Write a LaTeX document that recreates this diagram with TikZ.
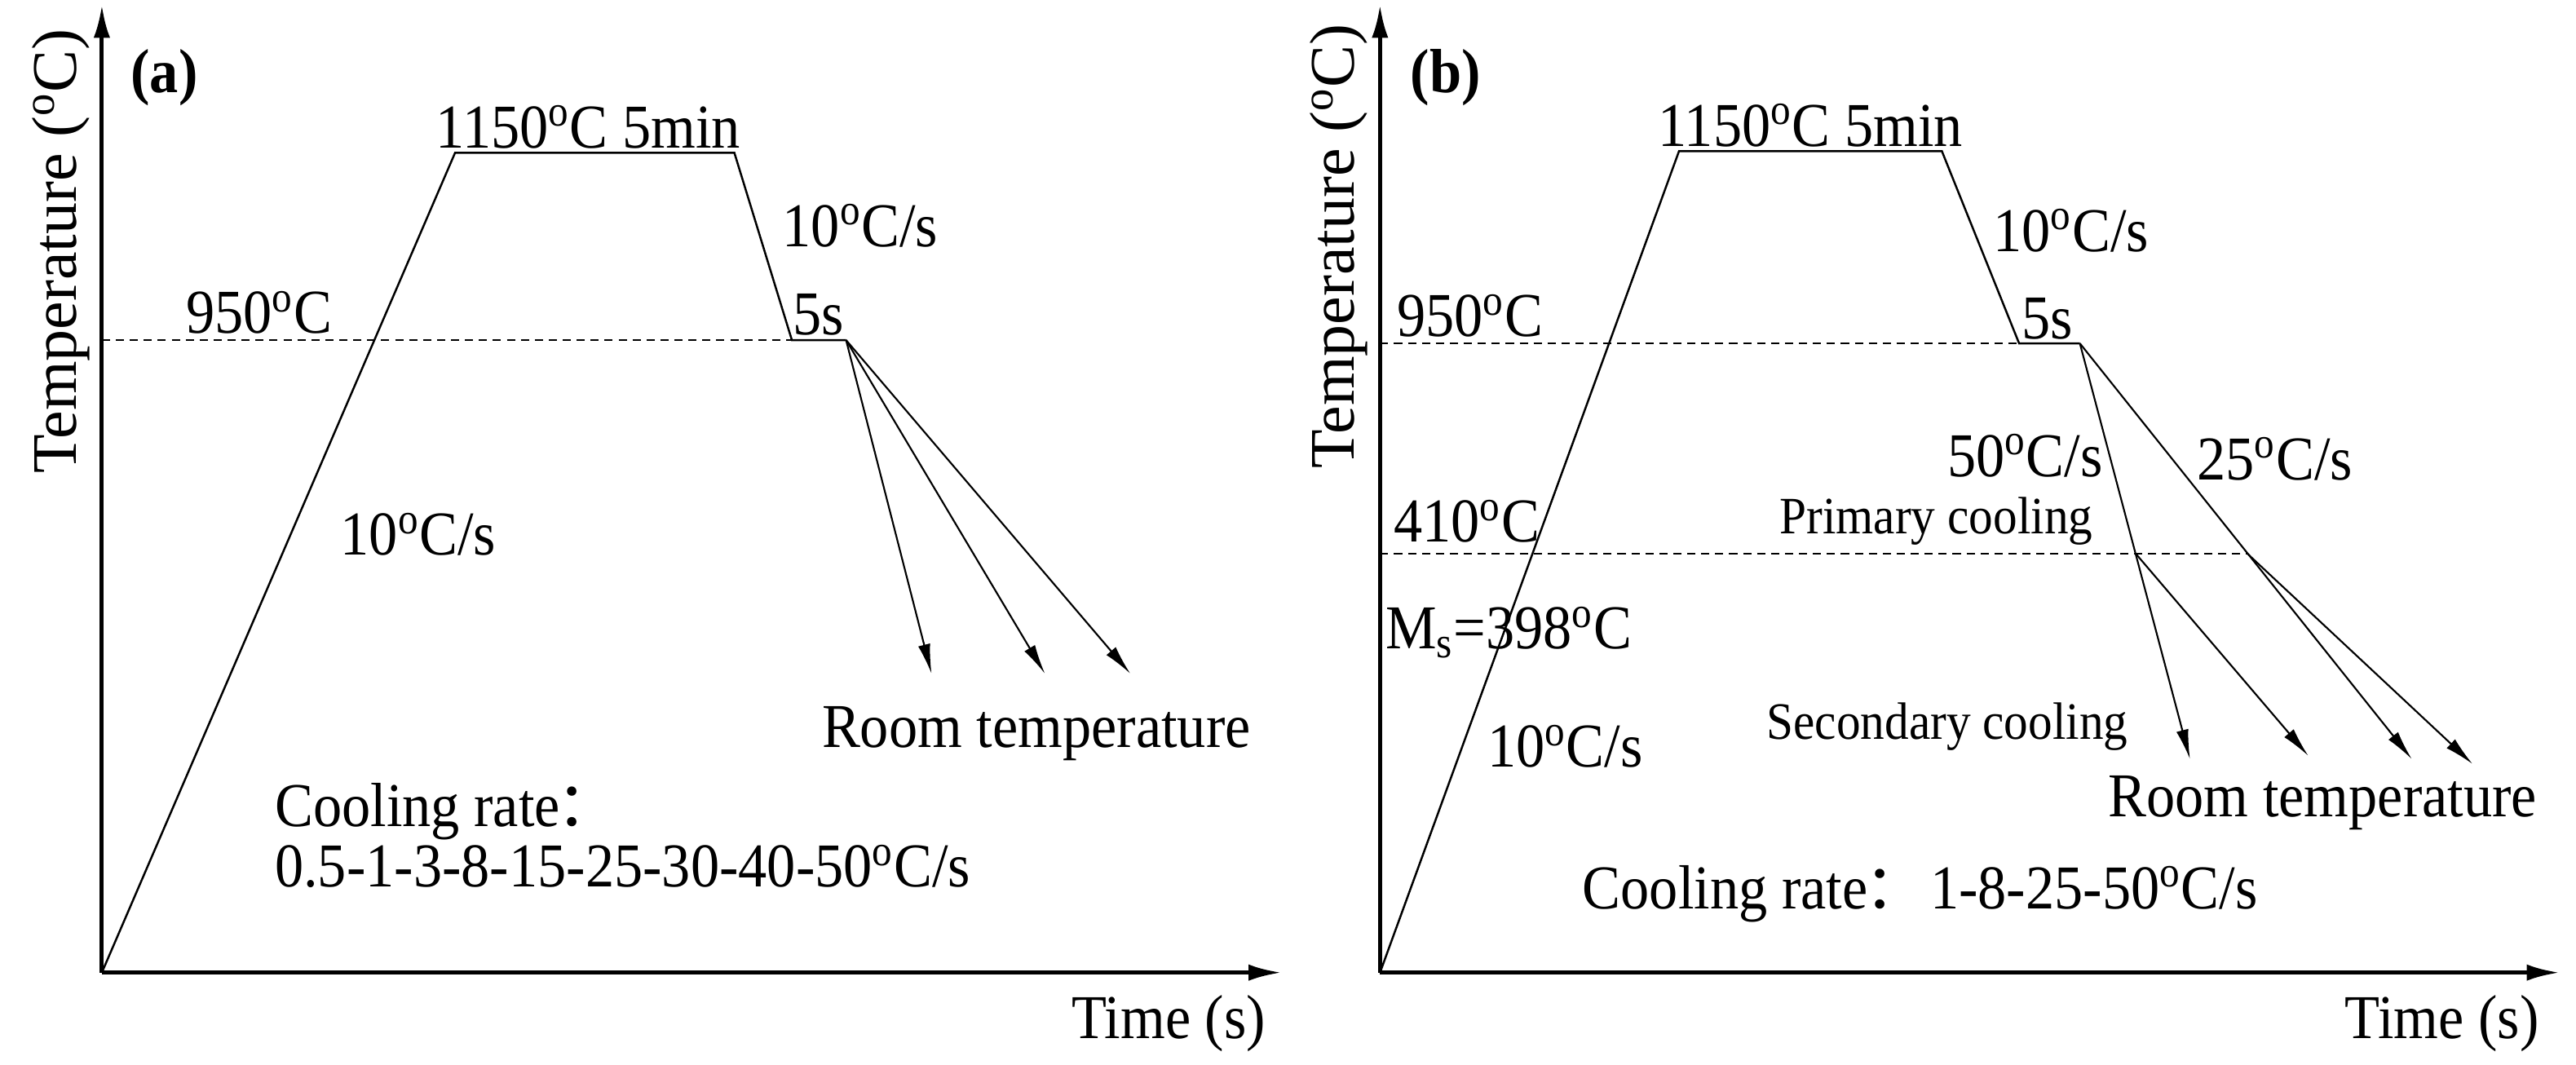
\documentclass[tikz,border=0pt]{standalone}
\usepackage{fontspec}
\setmainfont{Liberation Serif}[FakeStretch=0.92]
\newfontfamily\axisfont{Liberation Serif}
\newfontfamily\cjk{Noto Sans CJK SC}
\usetikzlibrary{arrows.meta}
\newcommand{\dg}{\textsuperscript{o}C}
\newcommand{\fwcolon}{\kern-0.06em{\cjk ：}\kern0.06em}

\begin{document}
\begin{tikzpicture}[x=0.2mm,y=-0.2mm,
  lbl/.style={font=\fontsize{21.6}{26}\selectfont,inner sep=0pt},
  small/.style={font=\fontsize{18.2}{22}\selectfont,inner sep=0pt},
  ylab/.style={font=\axisfont\fontsize{22}{26}\selectfont,inner sep=0pt,rotate=90},
  axis/.style={line width=1.4pt,-{Latex[length=4mm,width=2mm]}},
  route/.style={line width=0.7pt},
  cool/.style={line width=0.6pt,-{Latex[length=3.6mm,width=1.5mm]}},
  lvl/.style={line width=0.5pt,dash pattern=on 1mm off 0.7mm}]
\useasboundingbox (0,0) rectangle (1568,648);
\coordinate (oa) at (62,592);
\coordinate (ya) at (62,3);
\coordinate (xa) at (780,592);
\coordinate (a1) at (277,93);
\coordinate (a2) at (447,93);
\coordinate (a3) at (482,207);
\coordinate (a4) at (515,207);
\coordinate (aw) at (62,207);
\draw[axis] (oa) -- (ya);
\draw[axis] (oa) -- (xa);
\draw[lvl] (aw) -- (a3);
\draw[route] (oa) -- (a1) -- (a2) -- (a3) -- (a4);
\foreach \e/\x in {1/567,2/636,3/688}{
  \coordinate (ae\e) at (\x,410);
  \draw[cool] (a4) -- (ae\e);
}
\node[lbl] (la) at (100,47) {\textbf{(a)}};
\node[ylab] (yla) at (37,153) {Temperature (\dg)};
\node[lbl,anchor=base] (ta) at (358,90) {1150\dg{} 5min};
\node[lbl,anchor=base west] (ca) at (476,150) {10\dg/s};
\node[lbl,anchor=base] (sa) at (498,204) {5s};
\node[lbl,anchor=base west] (wa) at (113,203) {950\dg};
\node[lbl,anchor=base west] (ha) at (207,338) {10\dg/s};
\node[lbl,anchor=base west] (ra) at (500,455) {Room temperature};
\node[lbl,anchor=base west] (cra) at (167,503) {Cooling rate\fwcolon};
\node[lbl,anchor=base west] (cva) at (167,540) {0.5-1-3-8-15-25-30-40-50\dg/s};
\node[lbl,anchor=base west] (tia) at (652,632) {Time (s)};

\coordinate (ob) at (840,592);
\coordinate (yb) at (840,3);
\coordinate (xb) at (1558,592);
\coordinate (b1) at (1022,92);
\coordinate (b2) at (1182,92);
\coordinate (b3) at (1229,209);
\coordinate (b4) at (1266,209);
\coordinate (bw) at (840,209);
\coordinate (bm) at (840,337);
\coordinate (bp) at (1300,337);
\coordinate (bq) at (1368,337);
\coordinate (be1) at (1333,462);
\coordinate (be2) at (1405,460);
\coordinate (be3) at (1468,462);
\coordinate (be4) at (1505,465);
\draw[axis] (ob) -- (yb);
\draw[axis] (ob) -- (xb);
\draw[lvl] (bw) -- (b3);
\draw[lvl] (bm) -- (bq);
\draw[route] (ob) -- (b1) -- (b2) -- (b3) -- (b4);
\draw[cool] (b4) -- (be1);
\draw[cool] (b4) -- (be3);
\draw[cool] (bp) -- (be2);
\draw[cool] (bq) -- (be4);
\node[lbl] (lb) at (880,47) {\textbf{(b)}};
\node[ylab] (ylb) at (815,150) {Temperature (\dg)};
\node[lbl,anchor=base] (tb) at (1102,89) {1150\dg{} 5min};
\node[lbl,anchor=base west] (cb) at (1213,153) {10\dg/s};
\node[lbl,anchor=base] (sb) at (1246,206) {5s};
\node[lbl,anchor=base west] (wb) at (850,205) {950\dg};
\node[lbl,anchor=base west] (mb) at (848,330) {410\dg};
\node[lbl,anchor=base west] (msb) at (843,395) {M\textsubscript{s}=398\dg};
\node[lbl,anchor=base west] (hb) at (905,467) {10\dg/s};
\node[small,anchor=base west] (pb) at (1083,325) {Primary cooling};
\node[lbl,anchor=base west] (fb) at (1185,290) {50\dg/s};
\node[lbl,anchor=base west] (qb) at (1337,292) {25\dg/s};
\node[small,anchor=base west] (sdb) at (1075,450) {Secondary cooling};
\node[lbl,anchor=base west] (rb) at (1283,497) {Room temperature};
\node[lbl,anchor=base west] (crb) at (963,553) {Cooling rate\fwcolon 1-8-25-50\dg/s};
\node[lbl,anchor=base west] (tib) at (1427,632) {Time (s)};
\end{tikzpicture}
\end{document}
